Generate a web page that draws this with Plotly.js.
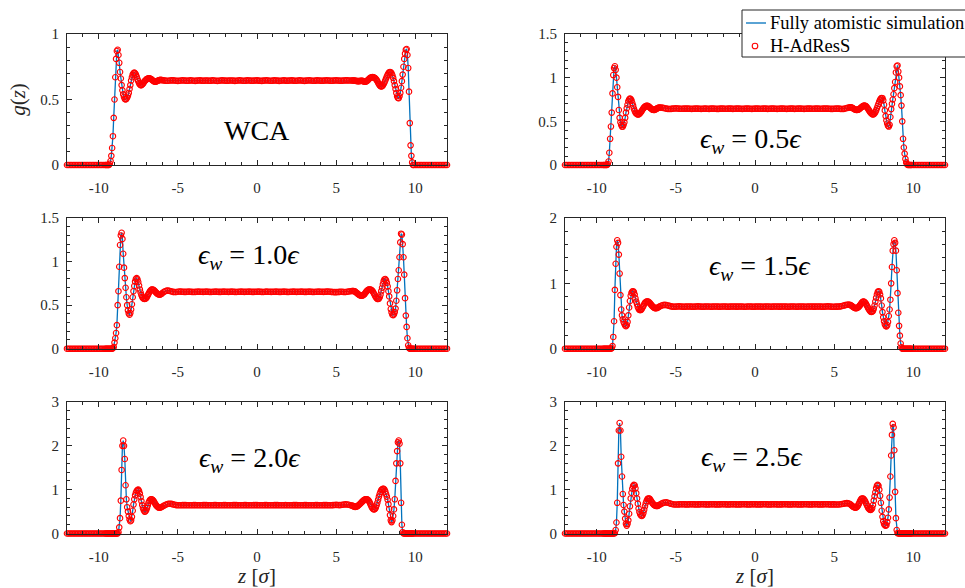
<!DOCTYPE html>
<html><head><meta charset="utf-8">
<script src="https://cdn.plot.ly/plotly-3.0.1.min.js"></script>
<style>html,body{margin:0;padding:0;background:#fff}#chart{width:965px;height:588px}</style>
</head><body><div id="chart"></div>
<script>
// ---------- z grid (sigma) ----------
const zOuterLeft = [-12,-11.9,-11.8,-11.7,-11.6,-11.5,-11.4,-11.3,-11.2,-11.1,-11,-10.9,-10.8,-10.7,-10.6,-10.5,-10.4,-10.3,-10.2,-10.1,-10,-9.9,-9.8,-9.7];
const zWallLeft = [-9.6,-9.55,-9.5,-9.45,-9.4,-9.35,-9.3,-9.25,-9.2,-9.15,
 -9.1,-9.05,-9,-8.95,-8.9,-8.85,-8.8,-8.75,-8.7,-8.65,
 -8.6,-8.55,-8.5,-8.45,-8.4,-8.35,-8.3,-8.25,-8.2,-8.15,
 -8.1,-8.05,-8,-7.95,-7.9,-7.85,-7.8,-7.75,-7.7,-7.65,
 -7.6,-7.55,-7.5,-7.45,-7.4,-7.35,-7.3,-7.25,-7.2,-7.15,
 -7.1,-7.05,-7,-6.95,-6.9,-6.85,-6.8,-6.75,-6.7,-6.65,
 -6.6,-6.55,-6.5,-6.45,-6.4,-6.35,-6.3,-6.25,-6.2,-6.15,
 -6.1,-6.05];
const zBulk = [-6,-5.9,-5.8,-5.7,-5.6,-5.5,-5.4,-5.3,-5.2,-5.1,
 -5,-4.9,-4.8,-4.7,-4.6,-4.5,-4.4,-4.3,-4.2,-4.1,
 -4,-3.9,-3.8,-3.7,-3.6,-3.5,-3.4,-3.3,-3.2,-3.1,
 -3,-2.9,-2.8,-2.7,-2.6,-2.5,-2.4,-2.3,-2.2,-2.1,
 -2,-1.9,-1.8,-1.7,-1.6,-1.5,-1.4,-1.3,-1.2,-1.1,
 -1,-0.9,-0.8,-0.7,-0.6,-0.5,-0.4,-0.3,-0.2,-0.1,
 0,0.1,0.2,0.3,0.4,0.5,0.6,0.7,0.8,0.9,
 1,1.1,1.2,1.3,1.4,1.5,1.6,1.7,1.8,1.9,
 2,2.1,2.2,2.3,2.4,2.5,2.6,2.7,2.8,2.9,
 3,3.1,3.2,3.3,3.4,3.5,3.6,3.7,3.8,3.9,
 4,4.1,4.2,4.3,4.4,4.5,4.6,4.7,4.8,4.9,
 5,5.1,5.2,5.3,5.4,5.5,5.6,5.7,5.8,5.9,
 6];
const zWallRight = [6.05,6.1,6.15,6.2,6.25,6.3,6.35,6.4,6.45,6.5,
 6.55,6.6,6.65,6.7,6.75,6.8,6.85,6.9,6.95,7,
 7.05,7.1,7.15,7.2,7.25,7.3,7.35,7.4,7.45,7.5,
 7.55,7.6,7.65,7.7,7.75,7.8,7.85,7.9,7.95,8,
 8.05,8.1,8.15,8.2,8.25,8.3,8.35,8.4,8.45,8.5,
 8.55,8.6,8.65,8.7,8.75,8.8,8.85,8.9,8.95,9,
 9.05,9.1,9.15,9.2,9.25,9.3,9.35,9.4,9.45,9.5,
 9.55,9.6,9.65,9.7,9.75,9.8,9.85,9.9];
const zOuterRight = [10,10.1,10.2,10.3,10.4,10.5,10.6,10.7,10.8,10.9,11,11.1,11.2,11.3,11.4,11.5,11.6,11.7,11.8,11.9,12];

// ---------- g(z) : zero regions beyond the walls ----------
const gOuterLeft = [0,0,0,0,0,0,0,0,0,0,0,0,0,0,0,0,0,0,0,0,0,0,0,0];
const gOuterRight = [0,0,0,0,0,0,0,0,0,0,0,0,0,0,0,0,0,0,0,0,0];

// ---------- WCA ----------
const wcaLeft = [0,0,0,0,0,0,0.01,0.03,0.07,0.13,
 0.22,0.36,0.5,0.67,0.81,0.87,0.88,0.84,0.78,0.71,
 0.66,0.61,0.57,0.54,0.52,0.505,0.5,0.505,0.515,0.53,
 0.55,0.58,0.61,0.645,0.67,0.69,0.7,0.705,0.7,0.69,
 0.675,0.655,0.64,0.625,0.615,0.61,0.61,0.615,0.62,0.63,
 0.64,0.645,0.652,0.657,0.66,0.662,0.662,0.66,0.657,0.652,
 0.647,0.642,0.638,0.636,0.636,0.638,0.641,0.644,0.647,0.649,
 0.65,0.649];
const wcaBulk = [0.648,0.646,0.644,0.643,0.643,0.645,0.646,0.646,0.645,0.643,
 0.642,0.643,0.645,0.646,0.645,0.644,0.643,0.644,0.646,0.645,
 0.643,0.642,0.644,0.645,0.646,0.644,0.643,0.644,0.645,0.644,
 0.643,0.644,0.646,0.645,0.643,0.642,0.643,0.645,0.646,0.645,
 0.644,0.643,0.644,0.645,0.645,0.644,0.642,0.643,0.645,0.646,
 0.645,0.643,0.643,0.644,0.646,0.645,0.644,0.643,0.644,0.645,
 0.646,0.644,0.643,0.642,0.644,0.645,0.646,0.645,0.643,0.643,
 0.644,0.646,0.645,0.644,0.642,0.643,0.645,0.646,0.644,0.643,
 0.644,0.645,0.646,0.644,0.643,0.643,0.645,0.646,0.645,0.643,
 0.642,0.644,0.645,0.646,0.645,0.643,0.643,0.644,0.646,0.645,
 0.644,0.643,0.644,0.645,0.646,0.645,0.644,0.643,0.644,0.645,
 0.646,0.645,0.644,0.643,0.644,0.645,0.646,0.646,0.645,0.645,
 0.645];
const wcaRight = [0.645,0.645,0.644,0.643,0.642,0.641,0.64,0.64,0.64,0.641,
 0.642,0.643,0.642,0.64,0.638,0.636,0.636,0.638,0.642,0.648,
 0.654,0.66,0.665,0.668,0.67,0.671,0.67,0.668,0.664,0.658,
 0.65,0.64,0.628,0.617,0.608,0.602,0.6,0.602,0.608,0.618,
 0.63,0.645,0.66,0.675,0.688,0.7,0.707,0.71,0.708,0.7,
 0.685,0.665,0.64,0.61,0.58,0.55,0.525,0.512,0.51,0.525,
 0.55,0.59,0.64,0.69,0.75,0.81,0.85,0.88,0.885,0.84,
 0.74,0.56,0.32,0.15,0.07,0.02,0,0];

// ---------- eps_w = 0.5 ----------
const e05Left = [0,0,0,0,0,0,0.01,0.04,0.14,0.3,
 0.44,0.6,0.82,1.03,1.11,1.13,1.09,1.0,0.89,0.78,
 0.63,0.54,0.49,0.46,0.44,0.44,0.46,0.49,0.54,0.6,
 0.65,0.69,0.73,0.75,0.76,0.755,0.74,0.71,0.68,0.645,
 0.62,0.6,0.59,0.582,0.58,0.58,0.585,0.595,0.607,0.62,
 0.635,0.648,0.66,0.668,0.674,0.677,0.677,0.674,0.668,0.66,
 0.652,0.644,0.637,0.632,0.63,0.631,0.635,0.64,0.646,0.651,
 0.655,0.657];
const e05Bulk = [0.658,0.657,0.654,0.65,0.646,0.643,0.642,0.643,0.645,0.647,
 0.648,0.647,0.645,0.644,0.644,0.645,0.646,0.646,0.645,0.644,
 0.643,0.644,0.645,0.646,0.645,0.644,0.643,0.644,0.646,0.645,
 0.644,0.643,0.645,0.646,0.646,0.644,0.643,0.643,0.645,0.646,
 0.645,0.644,0.644,0.645,0.646,0.645,0.643,0.644,0.645,0.646,
 0.646,0.644,0.643,0.644,0.645,0.646,0.645,0.644,0.643,0.644,
 0.645,0.646,0.645,0.644,0.644,0.645,0.646,0.645,0.643,0.644,
 0.645,0.646,0.646,0.644,0.643,0.644,0.645,0.646,0.645,0.644,
 0.643,0.644,0.646,0.646,0.645,0.643,0.644,0.645,0.646,0.645,
 0.644,0.643,0.644,0.645,0.646,0.645,0.644,0.644,0.645,0.646,
 0.645,0.644,0.644,0.645,0.646,0.646,0.645,0.644,0.643,0.643,
 0.644,0.645,0.646,0.645,0.643,0.642,0.643,0.647,0.652,0.657,
 0.66];
const e05Right = [0.66,0.658,0.654,0.648,0.642,0.637,0.633,0.631,0.63,0.632,
 0.637,0.643,0.65,0.658,0.666,0.672,0.677,0.68,0.679,0.674,
 0.665,0.653,0.64,0.626,0.612,0.6,0.59,0.583,0.58,0.582,
 0.59,0.605,0.625,0.65,0.675,0.7,0.725,0.745,0.76,0.768,
 0.765,0.74,0.69,0.625,0.56,0.51,0.475,0.45,0.44,0.46,
 0.55,0.64,0.7,0.75,0.81,0.88,0.95,1.06,1.13,1.14,
 1.07,1.0,0.9,0.8,0.68,0.5,0.3,0.2,0.13,0.07,
 0.03,0.01,0,0,0,0,0,0];

// ---------- eps_w = 1.0 ----------
const e10Left = [0,0,0,0,0,0,0,0,0,0,
 0.005,0.02,0.07,0.12,0.18,0.27,0.5,0.66,0.94,1.19,
 1.3,1.33,1.26,1.09,0.93,0.81,0.7,0.59,0.5,0.44,
 0.405,0.39,0.41,0.45,0.51,0.59,0.66,0.72,0.77,0.8,
 0.81,0.795,0.765,0.725,0.68,0.645,0.615,0.595,0.58,0.573,
 0.57,0.573,0.58,0.595,0.612,0.63,0.648,0.662,0.672,0.678,
 0.68,0.677,0.67,0.66,0.65,0.64,0.632,0.626,0.622,0.621,
 0.623,0.628];
const e10Bulk = [0.635,0.65,0.66,0.666,0.667,0.663,0.657,0.652,0.65,0.651,
 0.654,0.656,0.655,0.653,0.652,0.652,0.654,0.655,0.654,0.652,
 0.651,0.652,0.654,0.655,0.654,0.653,0.652,0.653,0.655,0.654,
 0.652,0.651,0.653,0.654,0.655,0.654,0.652,0.652,0.653,0.655,
 0.654,0.653,0.652,0.653,0.655,0.654,0.652,0.651,0.653,0.654,
 0.655,0.653,0.652,0.653,0.654,0.655,0.654,0.652,0.652,0.653,
 0.654,0.655,0.654,0.652,0.651,0.653,0.655,0.654,0.653,0.652,
 0.653,0.654,0.655,0.653,0.652,0.652,0.654,0.655,0.654,0.652,
 0.651,0.653,0.654,0.655,0.653,0.652,0.653,0.654,0.655,0.653,
 0.652,0.652,0.654,0.655,0.654,0.652,0.651,0.653,0.654,0.655,
 0.654,0.653,0.652,0.653,0.655,0.656,0.654,0.652,0.65,0.649,
 0.649,0.65,0.652,0.654,0.653,0.65,0.651,0.654,0.657,0.66,
 0.662];
const e10Right = [0.662,0.663,0.66,0.655,0.648,0.64,0.632,0.625,0.618,0.613,
 0.61,0.609,0.61,0.613,0.62,0.63,0.642,0.655,0.665,0.673,
 0.678,0.68,0.68,0.677,0.67,0.66,0.645,0.628,0.61,0.593,
 0.58,0.572,0.57,0.575,0.59,0.62,0.66,0.7,0.74,0.775,
 0.795,0.8,0.785,0.755,0.715,0.66,0.6,0.52,0.455,0.415,
 0.39,0.385,0.395,0.42,0.46,0.55,0.67,0.8,0.9,1.05,
 1.22,1.32,1.31,1.2,1.05,0.85,0.58,0.38,0.25,0.12,
 0.04,0.01,0,0,0,0,0,0];

// ---------- eps_w = 1.5 ----------
const e15Left = [0,0,0,0,0,0,0,0,0,0,
 0,0.01,0.04,0.18,0.42,0.9,1.3,1.56,1.66,1.62,
 1.44,1.15,0.82,0.6,0.51,0.45,0.41,0.38,0.355,0.345,
 0.36,0.41,0.51,0.63,0.73,0.81,0.855,0.875,0.88,0.865,
 0.83,0.77,0.72,0.68,0.64,0.61,0.595,0.59,0.595,0.61,
 0.63,0.655,0.68,0.7,0.712,0.72,0.722,0.72,0.712,0.7,
 0.685,0.67,0.655,0.642,0.632,0.625,0.621,0.62,0.622,0.627,
 0.634,0.642];
const e15Bulk = [0.65,0.66,0.668,0.67,0.668,0.662,0.655,0.648,0.644,0.643,
 0.644,0.646,0.647,0.646,0.644,0.643,0.644,0.645,0.646,0.645,
 0.644,0.643,0.644,0.646,0.647,0.646,0.644,0.643,0.644,0.645,
 0.646,0.645,0.643,0.644,0.645,0.646,0.645,0.644,0.643,0.645,
 0.646,0.646,0.644,0.643,0.644,0.645,0.646,0.645,0.644,0.644,
 0.645,0.646,0.645,0.643,0.643,0.645,0.646,0.646,0.644,0.643,
 0.644,0.645,0.646,0.645,0.644,0.643,0.644,0.646,0.646,0.645,
 0.643,0.644,0.645,0.646,0.645,0.644,0.644,0.645,0.646,0.645,
 0.644,0.643,0.644,0.646,0.646,0.645,0.643,0.644,0.645,0.646,
 0.645,0.644,0.643,0.644,0.645,0.646,0.645,0.644,0.644,0.645,
 0.646,0.645,0.644,0.643,0.644,0.646,0.647,0.646,0.644,0.643,
 0.643,0.644,0.644,0.645,0.648,0.653,0.66,0.667,0.672,0.674,
 0.671];
const e15Right = [0.665,0.657,0.648,0.638,0.63,0.624,0.62,0.62,0.623,0.63,
 0.64,0.655,0.67,0.688,0.705,0.716,0.72,0.717,0.706,0.69,
 0.668,0.645,0.62,0.6,0.582,0.568,0.562,0.566,0.58,0.61,
 0.66,0.72,0.78,0.83,0.865,0.88,0.872,0.83,0.77,0.66,
 0.56,0.48,0.42,0.375,0.35,0.34,0.36,0.41,0.5,0.6,
 0.75,1.0,1.25,1.5,1.6,1.66,1.62,1.5,1.2,0.85,
 0.55,0.35,0.2,0.08,0.02,0,0,0,0,0,
 0,0,0,0,0,0,0,0];

// ---------- eps_w = 2.0 ----------
const e20Left = [0,0,0,0,0,0,0,0,0,0,
 0,0,0,0,0,0,0,0.03,0.14,0.35,
 0.75,1.45,2.0,2.12,2.0,1.7,1.1,0.78,0.6,0.5,
 0.4,0.32,0.28,0.3,0.38,0.52,0.66,0.78,0.87,0.93,
 0.97,0.99,1.0,0.97,0.91,0.83,0.74,0.65,0.58,0.53,
 0.5,0.505,0.53,0.58,0.64,0.7,0.74,0.77,0.78,0.78,
 0.77,0.75,0.72,0.69,0.66,0.635,0.615,0.6,0.592,0.59,
 0.593,0.6];
const e20Bulk = [0.61,0.63,0.65,0.667,0.677,0.68,0.675,0.665,0.655,0.648,
 0.645,0.644,0.645,0.647,0.648,0.647,0.645,0.644,0.645,0.646,
 0.647,0.648,0.646,0.645,0.644,0.645,0.647,0.648,0.647,0.645,
 0.644,0.645,0.646,0.648,0.647,0.645,0.644,0.645,0.646,0.647,
 0.648,0.646,0.645,0.644,0.645,0.647,0.648,0.647,0.645,0.644,
 0.645,0.646,0.647,0.648,0.646,0.645,0.644,0.645,0.647,0.648,
 0.647,0.645,0.644,0.645,0.646,0.647,0.648,0.646,0.645,0.644,
 0.645,0.647,0.648,0.647,0.645,0.644,0.645,0.646,0.647,0.646,
 0.645,0.644,0.645,0.647,0.648,0.647,0.645,0.644,0.645,0.646,
 0.647,0.648,0.646,0.645,0.644,0.645,0.646,0.648,0.647,0.645,
 0.644,0.645,0.647,0.648,0.647,0.645,0.644,0.645,0.647,0.65,
 0.652,0.65,0.648,0.65,0.655,0.662,0.665,0.662,0.655,0.645,
 0.637];
const e20Right = [0.63,0.62,0.612,0.608,0.61,0.615,0.625,0.64,0.655,0.672,
 0.69,0.71,0.728,0.745,0.76,0.772,0.78,0.783,0.78,0.77,
 0.75,0.72,0.68,0.64,0.6,0.57,0.553,0.55,0.56,0.59,
 0.64,0.7,0.77,0.84,0.9,0.95,0.99,1.01,1.02,1.02,
 1.0,0.96,0.9,0.84,0.77,0.67,0.56,0.42,0.3,0.26,
 0.3,0.4,0.55,0.78,1.2,1.6,1.88,2.08,2.12,2.05,
 1.6,0.7,0.2,0.03,0,0,0,0,0,0,
 0,0,0,0,0,0,0,0];

// ---------- eps_w = 2.5 ----------
const e25Left = [0,0,0,0,0,0,0,0,0,0,
 0,0,0,0,0,0.01,0.08,0.25,0.7,1.6,
 2.35,2.52,2.35,1.75,1.3,0.9,0.65,0.5,0.34,0.22,
 0.18,0.22,0.3,0.45,0.62,0.8,0.93,1.02,1.08,1.11,
 1.1,1.03,0.92,0.8,0.68,0.57,0.49,0.44,0.41,0.4,
 0.42,0.47,0.54,0.62,0.69,0.74,0.78,0.8,0.8,0.79,
 0.765,0.735,0.705,0.68,0.66,0.645,0.635,0.63,0.628,0.63,
 0.638,0.65];
const e25Bulk = [0.662,0.682,0.698,0.707,0.709,0.702,0.69,0.677,0.667,0.662,
 0.661,0.662,0.664,0.666,0.667,0.666,0.664,0.663,0.664,0.666,
 0.667,0.666,0.664,0.663,0.664,0.665,0.667,0.668,0.666,0.664,
 0.663,0.664,0.666,0.667,0.666,0.664,0.663,0.664,0.665,0.667,
 0.668,0.666,0.664,0.663,0.664,0.666,0.667,0.666,0.664,0.663,
 0.664,0.665,0.667,0.668,0.666,0.664,0.663,0.664,0.666,0.667,
 0.666,0.664,0.663,0.664,0.665,0.667,0.668,0.666,0.664,0.663,
 0.664,0.666,0.667,0.666,0.664,0.663,0.664,0.665,0.667,0.668,
 0.666,0.664,0.663,0.664,0.666,0.667,0.666,0.664,0.663,0.664,
 0.665,0.667,0.668,0.666,0.664,0.663,0.664,0.666,0.667,0.666,
 0.664,0.663,0.664,0.665,0.667,0.668,0.666,0.664,0.663,0.665,
 0.664,0.662,0.661,0.663,0.667,0.672,0.68,0.688,0.692,0.688,
 0.674];
const e25Right = [0.655,0.64,0.625,0.61,0.6,0.593,0.59,0.595,0.61,0.635,
 0.67,0.71,0.75,0.78,0.8,0.8,0.79,0.77,0.74,0.7,
 0.66,0.62,0.585,0.56,0.545,0.54,0.55,0.58,0.65,0.75,
 0.85,0.94,1.03,1.09,1.11,1.09,1.0,0.86,0.7,0.52,
 0.38,0.28,0.22,0.19,0.18,0.19,0.26,0.36,0.55,0.82,
 1.3,1.78,2.25,2.5,2.42,1.9,0.95,0.35,0.08,0.01,
 0,0,0,0,0,0,0,0,0,0,
 0,0,0,0,0,0,0,0];

// ---------- labels & ticks ----------
const panelLabels = ['WCA','<i>ϵ</i><sub><i>w</i></sub> = 0.5<i>ϵ</i>','<i>ϵ</i><sub><i>w</i></sub> = 1.0<i>ϵ</i>',
 '<i>ϵ</i><sub><i>w</i></sub> = 1.5<i>ϵ</i>','<i>ϵ</i><sub><i>w</i></sub> = 2.0<i>ϵ</i>','<i>ϵ</i><sub><i>w</i></sub> = 2.5<i>ϵ</i>'];
const seriesNames = ['Fully atomistic simulation','H-AdResS'];
const xTickVals = [-10,-5,0,5,10];
const xTickText = ['-10','-5','0','5','10'];
const yTickVals1 = [0,0.5,1];     const yTickText1 = ['0','0.5','1'];
const yTickVals15 = [0,0.5,1,1.5]; const yTickText15 = ['0','0.5','1','1.5'];
const yTickVals2 = [0,1,2];       const yTickText2 = ['0','1','2'];
const yTickVals3 = [0,1,2,3];     const yTickText3 = ['0','1','2','3'];
const yMax = [1,1.5,1.5,2,3,3];

// ---------- assemble ----------
const zAll = [...zOuterLeft, ...zWallLeft, ...zBulk, ...zWallRight, ...zOuterRight];
const panelsData = [
  [wcaLeft, wcaBulk, wcaRight],
  [e05Left, e05Bulk, e05Right],
  [e10Left, e10Bulk, e10Right],
  [e15Left, e15Bulk, e15Right],
  [e20Left, e20Bulk, e20Right],
  [e25Left, e25Bulk, e25Right]
];
const gAll = panelsData.map(p => [...gOuterLeft, ...p[0], ...p[1], ...p[2], ...gOuterRight]);
gAll.forEach((g, i) => { if (g.length !== zAll.length) throw new Error('length mismatch panel ' + i); });

// ---------- styling ----------
const FONT = 'Liberation Serif, DejaVu Serif, serif';
const INK = '#262626';
const BLUE = '#0072BD';
const RED = '#FF0000';
const W = 965, H = 588;
const colX = [[67/W, 447/W], [565/W, 945/W]];
const rowY = [[1-165/H, 1-34/H], [1-348.7/H, 1-218/H], [1-533.5/H, 1-402/H]];
const labelPos = [[257,130],[751,140],[249,256],[760,267],[250,459],[752,458]];
const yTicks = [[yTickVals1,yTickText1,0.1],[yTickVals15,yTickText15,0.1],[yTickVals15,yTickText15,0.1],
                [yTickVals2,yTickText2,0.2],[yTickVals3,yTickText3,0.2],[yTickVals3,yTickText3,0.2]];
// legend box (pixels): left, top, bottom; row centres; symbol positions
const LEG = {left:742, right:985, top:10, bottom:57, row1:23, row2:46, lineX0:746, lineX1:766, dotX:755, textX:768, font:18.5};

const traces = [];
const px = v => v / W, py = v => 1 - v / H;
const layout = {
  width: W, height: H,
  margin: {l:0, r:0, t:0, b:0, autoexpand:false},
  paper_bgcolor: '#fff', plot_bgcolor: '#fff',
  font: {family: FONT, color: INK},
  showlegend: false,
  annotations: [],
  shapes: [
    {type:'rect', xref:'paper', yref:'paper', x0:px(LEG.left), x1:px(LEG.right), y0:py(LEG.bottom), y1:py(LEG.top),
     line:{color:INK, width:1}, fillcolor:'#fff', layer:'above'},
    {type:'line', xref:'paper', yref:'paper', x0:px(LEG.lineX0), x1:px(LEG.lineX1), y0:py(LEG.row1), y1:py(LEG.row1),
     line:{color:BLUE, width:1.3}, layer:'above'},
    {type:'circle', xref:'paper', yref:'paper', xsizemode:'pixel', ysizemode:'pixel',
     xanchor:px(LEG.dotX), yanchor:py(LEG.row2), x0:-2.8, x1:2.8, y0:-2.8, y1:2.8,
     line:{color:RED, width:1.1}, fillcolor:'rgba(0,0,0,0)', layer:'above'}
  ]
};
layout.annotations.push({text: seriesNames[0], xref:'paper', yref:'paper', x:px(LEG.textX), y:py(LEG.row1),
  xanchor:'left', yanchor:'middle', showarrow:false, font:{family:FONT, size:LEG.font, color:'#000'}});
layout.annotations.push({text: seriesNames[1], xref:'paper', yref:'paper', x:px(LEG.textX), y:py(LEG.row2),
  xanchor:'left', yanchor:'middle', showarrow:false, font:{family:FONT, size:LEG.font, color:'#000'}});

for (let i = 0; i < 6; i++) {
  const n = i === 0 ? '' : String(i+1);
  const col = i % 2, row = Math.floor(i/2);
  traces.push({x: zAll, y: gAll[i], xaxis:'x'+n, yaxis:'y'+n, type:'scatter', mode:'lines',
    name: seriesNames[0], line:{color:BLUE, width:1.3}, hoverinfo:'skip'});
  traces.push({x: zAll, y: gAll[i], xaxis:'x'+n, yaxis:'y'+n, type:'scatter', mode:'markers',
    name: seriesNames[1], cliponaxis:false,
    marker:{symbol:'circle-open', size:5.5, color:RED, line:{width:1.1, color:RED}}, hoverinfo:'skip'});

  const axCommon = {ticks:'inside', ticklen:5, tickwidth:1, tickcolor:INK, showline:true, linecolor:INK,
    linewidth:1, mirror:'ticks', showgrid:false, zeroline:false,
    tickfont:{family:FONT, size:15, color:INK}};
  const xa = Object.assign({}, axCommon, {domain: colX[col], anchor:'y'+n, range:[-12,12],
    tickmode:'array', tickvals:xTickVals, ticktext:xTickText, ticklabelstandoff: 9,
    minor:{tickmode:'linear', tick0:0, dtick:1, ticks:'inside', ticklen:3, tickwidth:1, tickcolor:INK, showgrid:false}});
  if (row === 2) xa.title = {text:'<i>z</i> [<i>σ</i>]', font:{family:FONT, size:21, color:INK}, standoff: 4};
  const ya = Object.assign({}, axCommon, {domain: rowY[row], anchor:'x'+n, range:[0, yMax[i]],
    tickmode:'array', tickvals:yTicks[i][0], ticktext:yTicks[i][1], ticklabelstandoff: 4,
    minor:{tickmode:'linear', tick0:0, dtick:yTicks[i][2], ticks:'inside', ticklen:3, tickwidth:1, tickcolor:INK, showgrid:false}});
  if (i === 0) ya.title = {text:'<i>g</i>(<i>z</i>)', font:{family:FONT, size:21, color:INK}, standoff: 8};
  layout['xaxis'+n] = xa;
  layout['yaxis'+n] = ya;

  layout.annotations.push({text: panelLabels[i], xref:'paper', yref:'paper',
    x: labelPos[i][0]/W, y: 1-labelPos[i][1]/H, xanchor:'center', yanchor:'middle', showarrow:false,
    font:{family:FONT, size:28, color:'#000'}});
}

Plotly.newPlot('chart', traces, layout, {staticPlot:true, displayModeBar:false});
</script></body></html>
